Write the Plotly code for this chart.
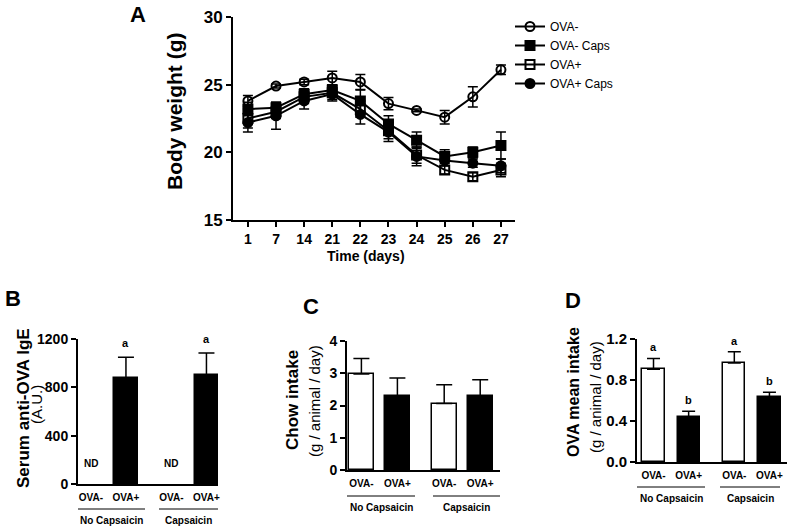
import plotly.graph_objects as go

# ---- data ----
days = ["1", "7", "14", "21", "22", "23", "24", "25", "26", "27"]

ova_neg = [23.8, 24.9, 25.2, 25.5, 25.2, 23.6, 23.1, 22.6, 24.1, 26.1]
ova_neg_err = [0.4, 0.15, 0.2, 0.5, 0.55, 0.45, 0.1, 0.5, 0.75, 0.35]
ova_neg_caps = [23.2, 23.3, 24.3, 24.6, 23.8, 22.1, 20.9, 19.7, 20.0, 20.5]
ova_neg_caps_err = [0.5, 0.4, 0.4, 0.4, 0.8, 0.6, 0.6, 0.5, 0.4, 1.0]
ova_pos = [22.5, 23.0, 24.1, 24.4, 23.2, 21.6, 19.8, 18.7, 18.2, 18.7]
ova_pos_err = [0.7, 0.5, 0.5, 0.5, 0.6, 0.6, 0.6, 0.3, 0.3, 0.5]
ova_pos_caps = [22.2, 22.7, 23.8, 24.3, 22.8, 21.5, 19.7, 19.4, 19.2, 19.0]
ova_pos_caps_err = [0.7, 1.0, 0.6, 0.5, 0.7, 0.7, 0.7, 0.4, 0.3, 0.5]

bar_groups = ["OVA-", "OVA+", "OVA-", "OVA+"]
bar_pos = [0, 1, 2.3, 3.3]
bar_colors = ["white", "black", "white", "black"]

ige = [None, 880, None, 900]
ige_err = [0, 170, 0, 185]
ige_text = ["ND", "", "ND", ""]
ige_letters = ["", "a", "", "a"]

chow = [2.98, 2.28, 2.06, 2.28]
chow_err = [0.48, 0.57, 0.58, 0.52]

ova_int = [0.905, 0.435, 0.965, 0.63]
ova_int_err = [0.105, 0.06, 0.11, 0.05]
ova_letters = ["a", "b", "a", "b"]

W, H = 787, 527
FONT = "Liberation Sans, Arial, sans-serif"


def px(x):
    return min(1, x / W)


def py(y):
    return 1 - y / H


fig = go.Figure()

# ---- panel A ----
series = [
    ("OVA-", ova_neg, ova_neg_err, "circle-open"),
    ("OVA- Caps", ova_neg_caps, ova_neg_caps_err, "square"),
    ("OVA+", ova_pos, ova_pos_err, "square-open"),
    ("OVA+ Caps", ova_pos_caps, ova_pos_caps_err, "circle"),
]
xi = list(range(len(days)))
for name, vals, err, sym in series:
    fig.add_trace(go.Scatter(
        x=xi, y=vals, name=name, mode="lines+markers",
        line=dict(color="black", width=2),
        marker=dict(symbol=sym, size=9, color="black", line=dict(color="black", width=2)),
        error_y=dict(type="data", array=err, color="black", thickness=1.5, width=5),
        xaxis="x", yaxis="y",
    ))


def bars(vals, err, xa, ya, w, capw):
    fig.add_trace(go.Bar(
        x=bar_pos, y=vals, width=w, showlegend=False,
        marker=dict(color=bar_colors, line=dict(color="black", width=1.5)),
        error_y=dict(type="data", array=err, arrayminus=[0] * len(err), symmetric=False,
                     color="black", thickness=1.5, width=capw),
        xaxis=xa, yaxis=ya,
    ))


bars(ige, ige_err, "x2", "y2", 0.66, 8)
bars(chow, chow_err, "x3", "y3", 0.7, 8)
bars(ova_int, ova_int_err, "x4", "y4", 0.63, 6.5)

axis_common = dict(showline=True, linecolor="black", linewidth=2, showgrid=False, automargin=False,
                   zeroline=False, ticks="outside", tickcolor="black", tickwidth=2, ticklen=5)
cat_axis = dict(showline=True, linecolor="black", linewidth=2, showgrid=False, zeroline=False,
                automargin=False, ticks="outside", ticklen=3, tickcolor="rgba(0,0,0,0)",
                tickvals=bar_pos, ticktext=bar_groups,
                tickfont=dict(family=FONT, size=10, color="black", weight="bold"))

fig.update_layout(
    template="none",
    width=W, height=H, margin=dict(l=0, r=0, t=0, b=0, pad=0),
    paper_bgcolor="white", plot_bgcolor="white",
    font=dict(family=FONT, color="black"),
    bargap=0,
    xaxis=dict(axis_common, domain=[px(233), px(515)], range=[-0.53, 9.5], anchor="y",
               tickvals=xi, ticktext=days,
               tickfont=dict(family=FONT, size=14, color="black", weight="bold")),
    yaxis=dict(axis_common, domain=[py(220), py(17)], range=[15, 30], dtick=5, anchor="x",
               tickfont=dict(family=FONT, size=17, color="black", weight="bold")),
    xaxis2=dict(cat_axis, domain=[px(78), px(218)], range=[-0.37, 3.63], anchor="y2"),
    yaxis2=dict(axis_common, domain=[py(484), py(339)], range=[0, 1200], tickvals=[0, 400, 800, 1200],
                anchor="x2", tickfont=dict(family=FONT, size=14, color="black", weight="bold")),
    xaxis3=dict(cat_axis, domain=[px(347), px(500)], range=[-0.4, 3.85], anchor="y3"),
    yaxis3=dict(axis_common, domain=[py(470), py(341)], range=[0, 4], dtick=1,
                anchor="x3", tickfont=dict(family=FONT, size=14, color="black", weight="bold")),
    xaxis4=dict(cat_axis, domain=[px(637), px(787)], range=[-0.47, 3.8], anchor="y4"),
    yaxis4=dict(axis_common, domain=[py(462), py(339)], range=[0, 1.2], tickvals=[0, 0.4, 0.8, 1.2],
                tickformat=".1f", anchor="x4",
                tickfont=dict(family=FONT, size=15, color="black", weight="bold")),
    legend=dict(x=px(510), y=py(12), xanchor="left", yanchor="top",
                font=dict(family=FONT, size=12, color="black"), bgcolor="rgba(0,0,0,0)",
                itemwidth=30),
)

ann = []


def text(x, y, s, size, bold=True, angle=0, xref="paper", yref="paper", **kw):
    ann.append(dict(x=x, y=y, xref=xref, yref=yref, text=s, showarrow=False, textangle=angle,
                    font=dict(family=FONT, size=size, color="black", weight="bold" if bold else "normal"),
                    xanchor="center", yanchor="middle", **kw))


# panel letters
text(px(138), py(14), "A", 22)
text(px(13), py(298), "B", 22)
text(px(311), py(306), "C", 22)
text(px(573), py(300), "D", 22)

# axis titles
text(px(174), py(112), "Body weight (g)", 21, angle=-90)
text(px(366), py(256), "Time (days)", 14)
text(px(23), py(408), "Serum anti-OVA IgE", 17, angle=-90)
text(px(36), py(405), "(A.U.)", 15, bold=False, angle=-90)
text(px(292), py(400), "Chow intake", 17, angle=-90)
text(px(314), py(401), "(g / animal / day)", 15, bold=False, angle=-90)
text(px(573), py(392), "OVA mean intake", 16, angle=-90)
text(px(595), py(397), "(g / animal / day)", 15, bold=False, angle=-90)

# ND labels and significance letters
for i, p in enumerate(bar_pos):
    if ige_text[i]:
        text(p, 170, ige_text[i], 10, xref="x2", yref="y2")
    if ige_letters[i]:
        text(p, ige[i] + ige_err[i], ige_letters[i], 11, xref="x2", yref="y2", yshift=14)
    text(p, ova_int[i] + ova_int_err[i], ova_letters[i], 11, xref="x4", yref="y4", yshift=11)

# group lines and labels
groups = [
    # (line y, label y, [(x0, x1), (x0, x1)])
    (509, 520, [(78, 145), (159, 218)]),
    (496, 507, [(347, 415), (433, 500)]),
    (487, 498, [(637, 705), (720, 780)]),
]
shapes = []
for ly, ty, segs in groups:
    for (x0, x1), lab in zip(segs, ["No Capsaicin", "Capsaicin"]):
        shapes.append(dict(type="line", xref="paper", yref="paper", x0=px(x0), x1=px(x1),
                           y0=py(ly), y1=py(ly), line=dict(color="black", width=1)))
        text(px((x0 + x1) / 2), py(ty), lab, 10)

fig.update_layout(annotations=ann, shapes=shapes)
fig.write_html("out.html", config={"displayModeBar": False},
               post_script="document.body.style.margin='0px';")
